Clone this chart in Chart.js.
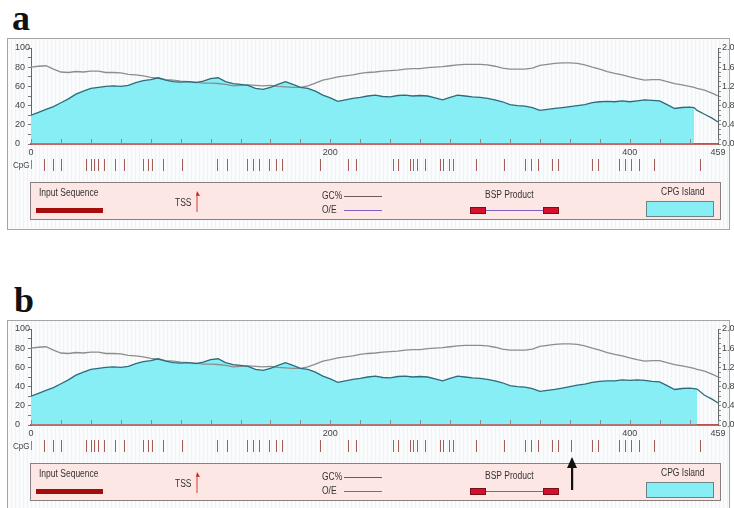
<!DOCTYPE html>
<html>
<head>
<meta charset="utf-8">
<script src="https://cdn.jsdelivr.net/npm/chart.js@4.4.1/dist/chart.umd.min.js"></script>
<style>
  body { margin:0; width:734px; height:508px; position:relative; overflow:hidden; background:#fff;
         font-family:'Liberation Sans', Arial, sans-serif; }
  .letter { position:absolute; font-family:'Liberation Serif','Times New Roman',serif; font-weight:bold;
            font-size:36px; line-height:36px; color:#111; }
  .frame { position:absolute; left:7px; width:721px; height:190px; border:1px solid #a5a5a5;
           background:repeating-linear-gradient(90deg, #f9fbfc 0 3px, #eef3f6 3px 4px); }
  canvas { position:absolute; left:0; }
  .cpg { position:absolute; left:13px; font-size:9px; line-height:10px; color:#444;
         transform:scaleX(0.9); transform-origin:left center; }
  .cpgbar { position:absolute; left:31px; width:1px; height:9px; background:#888; }
  .legend { position:absolute; left:30px; width:689px; height:36px; border:1.5px solid #8b7e7e; background:#fde7e4; }
  .lt { position:absolute; font-size:10px; line-height:10px; color:#333; white-space:nowrap;
        transform:scaleX(0.85); transform-origin:left center; }
  .sw { position:absolute; }
</style>
</head>
<body>

<div class="letter" style="left:12px;top:0px">a</div>
<div class="frame" style="top:38px"></div>
<canvas id="chartA" width="734" height="134" style="top:38px"></canvas>
<div class="cpg" style="top:160px">CpG</div>
<div class="cpgbar" style="top:160px"></div>
<div class="legend" style="top:182px">
  <div class="lt" style="left:8px;top:5px">Input Sequence</div>
  <div class="sw" style="left:5px;top:25px;width:67px;height:4.5px;background:#a50d0d"></div>
  <div class="lt" style="left:144px;top:15px">TSS</div>
  <svg class="sw" style="left:162px;top:8px" width="10" height="22" viewBox="0 0 10 22">
    <line x1="4" y1="21" x2="4" y2="4" stroke="#d23a3a" stroke-width="1"/>
    <polygon points="4,0 7,5 4,4.5 3,5" fill="#d21818"/>
  </svg>
  <div class="lt" style="left:291px;top:8px">GC%</div>
  <div class="sw" style="left:313px;top:13px;width:38px;height:1px;background:#6e5a5a"></div>
  <div class="lt" style="left:291px;top:22px">O/E</div>
  <div class="sw" style="left:313px;top:27px;width:38px;height:1px;background:#7d5fc0"></div>
  <div class="lt" style="left:454px;top:7px">BSP Product</div>
  <div class="sw" style="left:454px;top:27px;width:58px;height:1px;background:#7d5fc0"></div>
  <div class="sw" style="left:439px;top:24px;width:14px;height:5px;background:#d4102c;border:1px solid #7a0d1a"></div>
  <div class="sw" style="left:512px;top:24px;width:14px;height:5px;background:#d4102c;border:1px solid #7a0d1a"></div>
  <div class="lt" style="left:630px;top:4px">CPG Island</div>
  <div class="sw" style="left:615px;top:18px;width:66px;height:14px;background:#86eef4;border:1px solid #6b8585"></div>
</div>

<div class="letter" style="left:14px;top:282px">b</div>
<div class="frame" style="top:320px"></div>
<canvas id="chartB" width="734" height="134" style="top:319px"></canvas>
<div class="cpg" style="top:441px">CpG</div>
<div class="cpgbar" style="top:441px"></div>
<div class="legend" style="top:463px">
  <div class="lt" style="left:8px;top:5px">Input Sequence</div>
  <div class="sw" style="left:5px;top:25px;width:67px;height:4.5px;background:#a50d0d"></div>
  <div class="lt" style="left:144px;top:15px">TSS</div>
  <svg class="sw" style="left:162px;top:8px" width="10" height="22" viewBox="0 0 10 22">
    <line x1="4" y1="21" x2="4" y2="4" stroke="#d23a3a" stroke-width="1"/>
    <polygon points="4,0 7,5 4,4.5 3,5" fill="#d21818"/>
  </svg>
  <div class="lt" style="left:291px;top:8px">GC%</div>
  <div class="sw" style="left:313px;top:13px;width:38px;height:1px;background:#6e5a5a"></div>
  <div class="lt" style="left:291px;top:22px">O/E</div>
  <div class="sw" style="left:313px;top:27px;width:38px;height:1px;background:#7d5fc0"></div>
  <div class="lt" style="left:454px;top:7px">BSP Product</div>
  <div class="sw" style="left:454px;top:27px;width:58px;height:1px;background:#7d5fc0"></div>
  <div class="sw" style="left:439px;top:24px;width:14px;height:5px;background:#d4102c;border:1px solid #7a0d1a"></div>
  <div class="sw" style="left:512px;top:24px;width:14px;height:5px;background:#d4102c;border:1px solid #7a0d1a"></div>
  <div class="lt" style="left:630px;top:4px">CPG Island</div>
  <div class="sw" style="left:615px;top:18px;width:66px;height:14px;background:#86eef4;border:1px solid #6b8585"></div>
</div>
<svg style="position:absolute;left:566px;top:457px" width="12" height="34" viewBox="0 0 12 34">
  <polygon points="6,0 11,11 1,11" fill="#111"/>
  <rect x="5" y="10" width="2.2" height="23" fill="#111"/>
</svg>

<script>
// Sequence positions (bp) at which GC% and CpG O/E are sampled
const positions = [0,5,10,15,20,25,30,35,40,45,50,55,60,65,70,75,80,85,90,95,
  100,105,110,115,120,125,130,135,140,145,150,155,160,165,170,175,180,185,190,195,
  200,205,210,215,220,225,230,235,240,245,250,255,260,265,270,275,280,285,290,295,
  300,305,310,315,320,325,330,335,340,345,350,355,360,365,370,375,380,385,390,395,
  400,405,410,415,420,425,430,435,440,443,445,450,455,459];

// GC content (%), left axis
const gcPercent = [80,81,81.5,78,75,74.5,75.5,75,76,76,
  74.5,74.5,74,72.5,72,71,69.5,68.5,67,66.5,
  65.5,65,64.5,63.5,63.5,63,62,60.5,61,61.5,
  61,60.5,61,60,59.5,59,59,60.5,63.5,66.5,
  68,70,71,72,73.5,74.5,75,76,76.5,77,
  78,78.5,78.5,79.5,80,80.5,81.5,82.5,83,83,
  83,82.5,81,79,78,78,78,79,82,83,
  84,84.5,84.5,84,82.5,80,78,75.5,73.5,72,
  70,68,66.5,67,67,65,63,61.5,60,59,
  58,56,53,50];

// Observed/expected CpG ratio, right axis — original sequence
const oeRatioA = [0.60,0.66,0.72,0.78,0.86,0.94,1.04,1.10,1.16,1.18,
  1.20,1.21,1.20,1.22,1.28,1.32,1.34,1.38,1.33,1.30,
  1.29,1.30,1.28,1.31,1.36,1.38,1.30,1.26,1.24,1.22,
  1.16,1.14,1.18,1.24,1.30,1.24,1.18,1.16,1.10,1.02,
  0.96,0.89,0.92,0.95,0.97,1.00,1.02,0.99,0.98,1.01,
  1.02,1.00,1.01,1.00,0.96,0.92,0.97,1.02,1.00,0.98,
  0.97,0.95,0.92,0.88,0.82,0.80,0.79,0.76,0.70,0.72,
  0.74,0.76,0.78,0.80,0.82,0.86,0.88,0.89,0.88,0.90,
  0.88,0.90,0.92,0.91,0.90,0.82,0.74,0.76,0.77,0.76,
  0.70,0.62,0.54,0.46];

// Observed/expected CpG ratio — variant sequence with the extra CpG site
const oeRatioB = [0.60,0.66,0.72,0.78,0.86,0.94,1.04,1.10,1.16,1.18,
  1.20,1.21,1.20,1.22,1.28,1.32,1.34,1.38,1.33,1.30,
  1.29,1.30,1.28,1.31,1.36,1.38,1.30,1.26,1.24,1.22,
  1.16,1.14,1.18,1.24,1.30,1.24,1.18,1.16,1.10,1.02,
  0.96,0.89,0.92,0.95,0.97,1.00,1.02,0.99,0.98,1.01,
  1.02,1.00,1.01,1.00,0.96,0.92,0.97,1.02,1.00,0.98,
  0.97,0.95,0.92,0.88,0.82,0.80,0.79,0.76,0.70,0.72,
  0.74,0.77,0.80,0.83,0.85,0.89,0.91,0.92,0.92,0.94,
  0.93,0.94,0.93,0.91,0.90,0.82,0.74,0.76,0.77,0.76,
  0.75,0.62,0.54,0.46];

// CpG dinucleotide positions (bp)
const cpgSitesA = [9,15,20,37,40,42,45,49,56,62,75,78,81,88,101,124,131,144,148,152,
  159,164,168,193,212,217,242,245,253,255,258,263,273,275,279,282,297,316,330,334,
  339,348,352,375,379,393,397,401,406,416,447];
const cpgSitesB = [9,15,20,37,40,42,45,49,56,62,75,78,81,88,101,124,131,144,148,152,
  159,164,168,193,212,217,242,245,253,255,258,263,273,275,279,282,297,316,330,334,
  339,348,352,361,375,379,393,397,401,406,416,447];

// CpG island extents (bp)
const islandA = [0, 443];
const islandB = [0, 445];

// Position axis ticks and the ones that carry a label
const xTickValues = [0,20,40,60,80,100,120,140,160,180,200,220,240,260,280,300,320,340,360,380,400,420,440,459];
const xLabelValues = [0,200,400,459];
const seqLength = 459;

Chart.defaults.font.family = "'Liberation Sans', Arial, sans-serif";
Chart.defaults.font.size = 9;
Chart.defaults.color = '#444';

// Draws the position axis line over the fill, its inward tick marks,
// and the CpG site track below it
const trackPlugin = {
  id: 'track',
  afterDraw(chart, args, opts) {
    const { ctx, chartArea: area, scales: { x } } = chart;
    ctx.save();
    ctx.strokeStyle = '#c0504d';
    ctx.lineWidth = 1.5;
    ctx.beginPath();
    ctx.moveTo(x.getPixelForValue(0), area.bottom);
    ctx.lineTo(x.getPixelForValue(seqLength), area.bottom);
    ctx.stroke();
    ctx.lineWidth = 1;
    ctx.strokeStyle = '#8c8c8c';
    x.ticks.forEach(t => {
      const px = Math.round(x.getPixelForValue(t.value)) + 0.5;
      ctx.beginPath(); ctx.moveTo(px, area.bottom - 1); ctx.lineTo(px, area.bottom - 5); ctx.stroke();
    });
    ctx.strokeStyle = '#a45e5a';
    opts.sites.forEach(s => {
      const px = Math.round(x.getPixelForValue(s)) + 0.5;
      ctx.beginPath(); ctx.moveTo(px, area.bottom + 15); ctx.lineTo(px, area.bottom + 27); ctx.stroke();
    });
    ctx.restore();
  }
};

function buildChart(id, oeRatio, sites, island) {
  const gcPts = positions.map((p, i) => ({ x: p, y: gcPercent[i] }));
  const oePts = positions.map((p, i) => ({ x: p, y: oeRatio[i] }));
  const islandPts = oePts.filter(pt => pt.x >= island[0] && pt.x <= island[1]);
  return new Chart(document.getElementById(id), {
    type: 'line',
    data: {
      datasets: [
        { label: 'CpG island', data: islandPts, yAxisID: 'y1', order: 3,
          borderWidth: 0, pointRadius: 0, fill: 'origin', backgroundColor: '#86eef4' },
        { label: 'GC%', data: gcPts, yAxisID: 'y', order: 2,
          borderColor: '#8d8d8d', borderWidth: 1.3, pointRadius: 0, fill: false },
        { label: 'O/E', data: oePts, yAxisID: 'y1', order: 1,
          borderColor: '#2d6c7c', borderWidth: 1.3, pointRadius: 0, fill: false }
      ]
    },
    options: {
      responsive: false,
      animation: false,
      events: [],
      layout: { padding: { top: 10, left: 15, right: 0, bottom: 0 } },
      plugins: { legend: { display: false }, tooltip: { enabled: false }, track: { sites } },
      scales: {
        x: {
          type: 'linear', min: 0, max: seqLength,
          afterBuildTicks: s => { s.ticks = xTickValues.map(v => ({ value: v })); },
          afterFit: s => { s.height = 28; },
          ticks: { autoSkip: false, maxRotation: 0, padding: 3, color: '#444',
                   callback: v => xLabelValues.includes(v) ? String(v) : '' },
          grid: { display: false, drawTicks: false },
          border: { color: '#c0504d', width: 1.5 }
        },
        y: {
          position: 'left', min: 0, max: 100,
          afterFit: s => { s.width = 16; },
          ticks: { stepSize: 10, padding: 0, crossAlign: 'far', autoSkip: false, color: '#444',
                   callback: v => (v % 20 === 0 ? String(v) : '') },
          grid: { drawOnChartArea: false, tickLength: 3, color: '#777' },
          border: { color: '#666', width: 1 }
        },
        y1: {
          position: 'right', min: 0, max: 2,
          afterFit: s => { s.width = 16; },
          ticks: { stepSize: 0.1, padding: 1, autoSkip: false, color: '#444',
                   callback: v => (Math.round(v * 10) % 4 === 0 ? v.toFixed(1) : '') },
          grid: { drawOnChartArea: false, tickLength: 3, color: '#888' },
          border: { color: '#666', width: 1, dash: [1, 2] }
        }
      }
    },
    plugins: [trackPlugin]
  });
}

buildChart('chartA', oeRatioA, cpgSitesA, islandA);
buildChart('chartB', oeRatioB, cpgSitesB, islandB);
</script>
</body>
</html>
